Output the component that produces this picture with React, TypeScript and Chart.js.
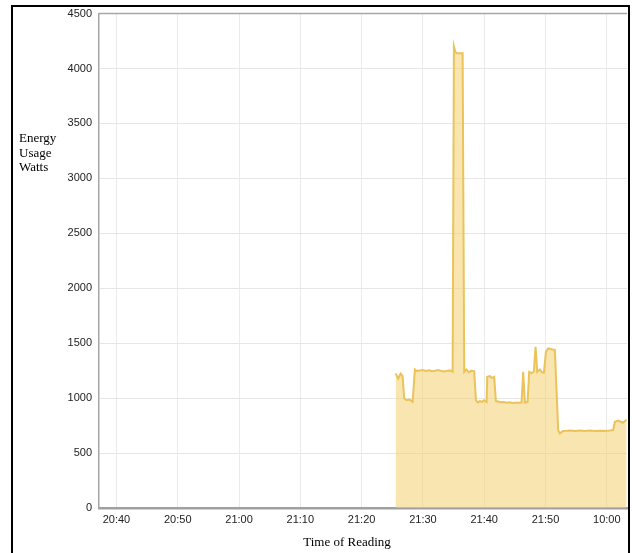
import React, { useEffect, useRef } from "react";
import { Chart, registerables } from "chart.js";

Chart.register(...registerables);

// x values are minutes after 20:00
const tickMinutes = [40, 50, 60, 70, 80, 90, 100, 110, 120];
const tickLabels = ["20:40", "20:50", "21:00", "21:10", "21:20", "21:30", "21:40", "21:50", "10:00"];
const yTickValues = [0, 500, 1000, 1500, 2000, 2500, 3000, 3500, 4000, 4500];

const readingMinutes = [
  85.55, 85.97, 86.36, 86.69, 86.95, 87.34, 87.77, 88.32, 88.69, 88.97,
  89.5, 90.0, 90.5, 91.0, 91.5, 92.0, 92.5, 93.0, 93.5, 94.0, 94.5, 94.85,
  95.06, 95.3, 95.6, 96.48,
  96.74, 97.1, 97.5, 97.9, 98.37, 98.65, 98.97, 99.3, 99.63, 99.95, 100.39,
  100.49, 100.93, 101.26, 101.63, 101.9,
  102.24, 102.73, 103.21, 103.7, 104.19, 104.68, 105.17, 105.66, 106.1,
  106.36, 106.64, 107.08, 107.34, 107.73, 108.1, 108.38, 108.65, 109.09,
  109.41, 109.74, 110.07, 110.44, 111.16, 111.53, 112.07, 112.35, 112.84,
  113.33, 113.98, 114.8, 115.6, 116.4, 117.24, 118.06, 118.87, 119.69,
  120.5, 121.04, 121.32, 121.81, 122.3, 122.62, 123.23,
];

const wattsValues = [
  1224, 1179, 1224, 1200, 997, 982, 988, 966, 1261, 1248,
  1252, 1256, 1247, 1253, 1244, 1250, 1256, 1247, 1243, 1250, 1252, 1240,
  4202, 4150, 4139, 4139,
  1239, 1261, 1235, 1250, 1245, 982, 960, 975, 965, 980, 965,
  1194, 1200, 1185, 1194, 975,
  970, 962, 965, 958, 962, 955, 960, 958, 962,
  1239, 960, 968, 1239, 1227, 1240, 1466, 1239, 1261,
  1235, 1232, 1421, 1452, 1443, 1439, 709, 679, 700,
  702, 705, 700, 705, 702, 706, 700, 704, 702,
  706, 710, 785, 795, 785, 776, 804,
];

const yTitleLines = ["Energy", "Usage", "Watts"];
const xTitle = "Time of Reading";

const decorPlugin = {
  id: "decor",
  afterDraw(chart: any) {
    const { ctx, chartArea } = chart;
    ctx.save();
    ctx.strokeStyle = "#a6a6a6";
    ctx.lineWidth = 1.5;
    ctx.beginPath();
    ctx.moveTo(chartArea.left, chartArea.top);
    ctx.lineTo(chartArea.right, chartArea.top);
    ctx.stroke();
    ctx.fillStyle = "#000";
    ctx.font = '13px "Liberation Serif"';
    ctx.textBaseline = "middle";
    ctx.textAlign = "left";
    yTitleLines.forEach((t, i) => ctx.fillText(t, 19, 139 + i * 14.5));
    ctx.textAlign = "center";
    ctx.fillText(xTitle, 347, 543);
    ctx.restore();
  },
};

export default function App() {
  const canvasRef = useRef<HTMLCanvasElement | null>(null);

  useEffect(() => {
    if (!canvasRef.current) return;
    const chart = new Chart(canvasRef.current, {
      type: "line",
      data: {
        datasets: [
          {
            data: readingMinutes.map((m, i) => ({ x: m, y: wattsValues[i] })),
            borderColor: "#ebc35a",
            borderWidth: 2,
            backgroundColor: "rgba(243, 208, 110, 0.55)",
            fill: "origin",
            pointRadius: 0,
            tension: 0,
          },
        ],
      },
      options: {
        responsive: false,
        animation: false,
        layout: { padding: { top: 13, right: 5, left: 0, bottom: 0 } },
        plugins: { legend: { display: false }, tooltip: { enabled: false }, title: { display: false } },
        scales: {
          x: {
            type: "linear",
            min: 37.15,
            max: 123.3,
            afterFit: (s: any) => {
              s.height = 45;
            },
            afterBuildTicks: (s: any) => {
              s.ticks = tickMinutes.map((v) => ({ value: v }));
            },
            ticks: {
              autoSkip: false,
              maxRotation: 0,
              padding: 5,
              color: "#222",
              font: { family: '"Liberation Sans", Arial', size: 11 },
              callback: (v: any) => {
                const i = tickMinutes.indexOf(Number(v));
                return i >= 0 ? tickLabels[i] : "";
              },
            },
            grid: { color: "#ebebeb", lineWidth: 1, drawTicks: false },
            border: { display: true, color: "#a0a0a0", width: 2.5 },
          },
          y: {
            min: 0,
            max: 4500,
            afterFit: (s: any) => {
              s.width = 99;
            },
            afterBuildTicks: (s: any) => {
              s.ticks = yTickValues.map((v) => ({ value: v }));
            },
            ticks: {
              padding: 7,
              color: "#222",
              font: { family: '"Liberation Sans", Arial', size: 11 },
              callback: (v: any) => String(v),
            },
            grid: { color: "#e6e6e6", lineWidth: 1, drawTicks: false },
            border: { display: true, color: "#a6a6a6", width: 1.5 },
          },
        },
      },
      plugins: [decorPlugin],
    });
    return () => chart.destroy();
  }, []);

  return (
    <div
      style={{
        position: "fixed",
        left: 0,
        top: 0,
        width: 632,
        height: 553,
        overflow: "hidden",
        background: "#fff",
      }}
    >
      <canvas ref={canvasRef} width={632} height={553} style={{ position: "absolute", left: 0, top: 0 }} />
      <div
        style={{
          position: "absolute",
          left: 11,
          top: 5,
          width: 619,
          height: 600,
          boxSizing: "border-box",
          border: "2px solid #000",
          pointerEvents: "none",
        }}
      />
    </div>
  );
}
